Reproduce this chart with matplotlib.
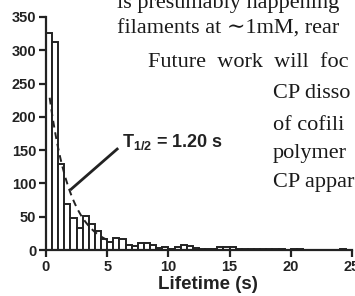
import numpy as np
import matplotlib
matplotlib.use("Agg")
import matplotlib.pyplot as plt

# histogram of lifetimes, 0.5 s bins
bin_width = 0.5
counts = [326, 312, 129, 69, 48, 33, 51, 39, 29, 16,
          12, 18, 16, 8, 6, 10, 10, 8, 3, 5,
          2, 4, 7, 6, 3, 2, 1, 2, 5, 5,
          5, 2, 1, 1, 1, 2, 1, 1, 1, 0,
          1, 2, 0, 0, 0, 0, 0, 0, 2, 0]
edges = np.arange(len(counts)) * bin_width

# single exponential fit
fit_amp = 272
half_life = 1.20
fit_x = np.linspace(0.3, 5.0, 60)

xticks = [0, 5, 10, 15, 20, 25]
yticks = [0, 50, 100, 150, 200, 250, 300, 350]

# page text showing around the figure
page_lines = ["is presumably happening", "filaments at \u223c1mM, rear",
              "Future  work  will  foc", "CP disso", "of cofili",
              "polymer", "CP appar"]
page_xy = [(117, 8), (117, 34), (148, 67), (273, 98), (273, 130),
           (273, 158), (273, 187)]

plt.rcParams['font.family'] = ['Liberation Sans', 'DejaVu Sans']
plt.rcParams['mathtext.fontset'] = 'custom'
plt.rcParams['mathtext.bf'] = 'Liberation Sans:bold'
plt.rcParams['mathtext.rm'] = 'Liberation Sans:bold'

fig = plt.figure(figsize=(3.55, 2.96), dpi=100)
ax = fig.add_axes([46 / 355, 46 / 296, 306 / 355, 233 / 296])

ax.bar(edges, counts, width=bin_width, align='edge', facecolor='white',
       edgecolor='#222222', linewidth=1.4, zorder=2)
ax.plot(fit_x, fit_amp * np.exp(-fit_x * np.log(2) / half_life), color='#222222',
        lw=1.4, dashes=(3.5, 2.5), zorder=3)

ax.plot([1.97, 5.9], [90, 153], color='#222222', lw=2, zorder=4, solid_capstyle='butt')
ax.text(6.2, 154, r"T$_{1/2}$ = 1.20 s", fontsize=13, fontweight='bold',
        color='#222222', va='baseline', ha='left')

ax.set_xlim(0, 25)
ax.set_ylim(0, 350)
ax.set_xticks(xticks)
ax.set_yticks(yticks)
for side in ['top', 'right']:
    ax.spines[side].set_visible(False)
for side in ['left', 'bottom']:
    ax.spines[side].set_linewidth(1.6)
    ax.spines[side].set_color('#222222')
ax.tick_params(length=5, width=1.6, color='#222222', pad=2,
               labelsize=10.5, labelcolor='#222222')
for lab in ax.get_xticklabels() + ax.get_yticklabels():
    lab.set_fontweight('bold')
ax.set_xlabel("Lifetime (s)", fontsize=13.5, fontweight='bold', color='#222222')
ax.xaxis.set_label_coords(0.53, -0.112)
ax.patch.set_alpha(0)

for line, (px, py) in zip(page_lines, page_xy):
    fig.text(px / 355, 1 - py / 296, line, family=['Liberation Serif', 'DejaVu Serif'],
             fontsize=16, color='#1a1a1a', va='baseline', ha='left')

fig.savefig("out.png", dpi=100)
